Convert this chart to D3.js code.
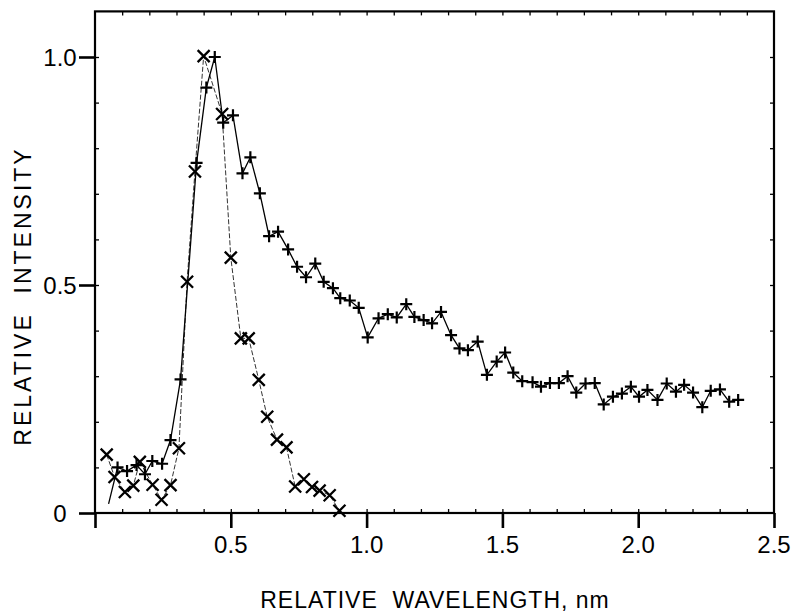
<!DOCTYPE html>
<html lang="en">
<head>
  <meta charset="UTF-8">
  <title>Relative intensity vs relative wavelength</title>
  <script src="https://d3js.org/d3.v7.min.js"></script>
  <style>
    body {
      margin: 0;
      background-color: #ffffff;
    }
    svg text {
      font-family: "Liberation Sans", Arial, sans-serif;
      fill: #000;
    }
  </style>
</head>
<body>

<div id="chart"></div>

<script>
  // data
  var plusX = [0.05, 0.083, 0.118, 0.153, 0.184, 0.211, 0.247, 0.278, 0.315, 0.374, 0.41, 0.441, 0.472, 0.508,
    0.543, 0.572, 0.607, 0.641, 0.674, 0.711, 0.744, 0.777, 0.811, 0.842, 0.876, 0.903, 0.938, 0.971, 1.004,
    1.044, 1.078, 1.111, 1.146, 1.176, 1.21, 1.241, 1.274, 1.311, 1.342, 1.373, 1.409, 1.443, 1.479, 1.51,
    1.54, 1.573, 1.611, 1.642, 1.675, 1.708, 1.74, 1.772, 1.806, 1.84, 1.873, 1.907, 1.94, 1.973, 2.003,
    2.034, 2.071, 2.105, 2.139, 2.169, 2.202, 2.236, 2.267, 2.301, 2.335, 2.368];
  var plusY = [0.02, 0.10, 0.092, 0.105, 0.085, 0.114, 0.108, 0.16, 0.293, 0.768, 0.933, 1.0, 0.856, 0.872,
    0.745, 0.780, 0.701, 0.607, 0.617, 0.578, 0.540, 0.517, 0.547, 0.507, 0.493, 0.471, 0.466, 0.450, 0.385,
    0.427, 0.436, 0.429, 0.458, 0.430, 0.423, 0.416, 0.441, 0.390, 0.361, 0.357, 0.376, 0.303, 0.332, 0.352,
    0.308, 0.289, 0.287, 0.277, 0.285, 0.285, 0.300, 0.264, 0.284, 0.285, 0.238, 0.255, 0.262, 0.277, 0.255,
    0.270, 0.248, 0.284, 0.266, 0.281, 0.264, 0.232, 0.268, 0.271, 0.244, 0.248];

  var crossX = [0.043, 0.072, 0.11, 0.141, 0.165, 0.212, 0.245, 0.278, 0.309, 0.339, 0.368, 0.400, 0.468,
    0.500, 0.537, 0.566, 0.603, 0.634, 0.670, 0.705, 0.737, 0.769, 0.799, 0.827, 0.864, 0.900];
  var crossY = [0.128, 0.079, 0.046, 0.060, 0.112, 0.062, 0.029, 0.061, 0.142, 0.507, 0.749, 1.002, 0.875,
    0.560, 0.383, 0.383, 0.292, 0.211, 0.161, 0.144, 0.058, 0.074, 0.057, 0.049, 0.039, 0.005];

  var xMajor = [0, 0.5, 1.0, 1.5, 2.0, 2.5];
  var xLabels = ["", "0.5", "1.0", "1.5", "2.0", "2.5"];
  var yMajor = [0, 0.5, 1.0];
  var yLabels = ["0", "0.5", "1.0"];

  var W = 793, H = 615;
  var plotL = 95, plotR = 774, plotT = 11.4, plotB = 513;

  var svg = d3.select("#chart")
    .append("svg")
    .attr("width", W)
    .attr("height", H);

  var x = d3.scaleLinear().domain([0, 2.5]).range([plotL, plotR]);
  var y = d3.scaleLinear().domain([0, 1.1]).range([plotB, plotT]);

  var minorX = d3.range(1, 25).map(function(i) { return i / 10; });
  var minorY = d3.range(1, 11).map(function(i) { return i / 10; });

  // minor ticks, all pointing inward
  svg.append("g").attr("transform", "translate(0," + plotB + ")")
    .call(d3.axisBottom(x).tickValues(minorX).tickSize(-4).tickFormat(""));
  svg.append("g").attr("transform", "translate(0," + plotT + ")")
    .call(d3.axisTop(x).tickValues(minorX).tickSize(-4).tickFormat(""));
  svg.append("g").attr("transform", "translate(" + plotL + ",0)")
    .call(d3.axisLeft(y).tickValues(minorY).tickSize(-4).tickFormat(""));
  svg.append("g").attr("transform", "translate(" + plotR + ",0)")
    .call(d3.axisRight(y).tickValues(minorY).tickSize(-4).tickFormat(""));

  // major ticks, outward on bottom and left
  svg.append("g").attr("class", "major").attr("transform", "translate(0," + plotB + ")")
    .call(d3.axisBottom(x).tickValues(xMajor).tickSize(15).tickFormat(""));
  svg.append("g").attr("class", "major").attr("transform", "translate(" + plotL + ",0)")
    .call(d3.axisLeft(y).tickValues(yMajor).tickSize(16).tickFormat(""));

  svg.selectAll(".domain").remove();
  svg.selectAll(".tick line").attr("stroke", "#000").attr("stroke-width", 1.3);
  svg.selectAll(".major .tick line").attr("stroke-width", 2.6);

  // frame
  svg.append("rect")
    .attr("x", plotL).attr("y", plotT)
    .attr("width", plotR - plotL).attr("height", plotB - plotT)
    .attr("fill", "none").attr("stroke", "#000").attr("stroke-width", 2.2);

  // tick labels
  svg.selectAll(".xlab").data(xMajor).enter().append("text")
    .attr("x", function(d) { return x(d); })
    .attr("y", 553)
    .attr("text-anchor", "middle")
    .style("font-size", "24px")
    .text(function(d, i) { return xLabels[i]; });

  svg.selectAll(".ylab").data(yMajor).enter().append("text")
    .attr("x", 60)
    .attr("y", function(d) { return y(d) + 8.5; })
    .attr("text-anchor", "middle")
    .style("font-size", "24px")
    .text(function(d, i) { return yLabels[i]; });

  // axis titles
  svg.append("text")
    .attr("x", 435).attr("y", 608)
    .attr("text-anchor", "middle")
    .style("font-size", "23px")
    .style("letter-spacing", "1px")
    .attr("xml:space", "preserve")
    .text("RELATIVE  WAVELENGTH, nm");

  svg.append("text")
    .attr("transform", "translate(31,296) rotate(-90)")
    .attr("text-anchor", "middle")
    .style("font-size", "23px")
    .style("letter-spacing", "3px")
    .attr("xml:space", "preserve")
    .text("RELATIVE  INTENSITY");

  // series
  var plusPts = plusX.map(function(d, i) { return [d, plusY[i]]; });
  var crossPts = crossX.map(function(d, i) { return [d, crossY[i]]; });

  var line = d3.line()
    .x(function(d) { return x(d[0]); })
    .y(function(d) { return y(d[1]); });

  svg.append("path")
    .datum(crossPts)
    .attr("d", line)
    .attr("fill", "none")
    .attr("stroke", "#333")
    .attr("stroke-width", 1)
    .attr("stroke-dasharray", "5,2");

  svg.append("path")
    .datum(plusPts)
    .attr("d", line)
    .attr("fill", "none")
    .attr("stroke", "#000")
    .attr("stroke-width", 1.3);

  // first plus point has no visible marker in the original
  svg.selectAll(".plus").data(plusPts.slice(1)).enter().append("path")
    .attr("transform", function(d) { return "translate(" + x(d[0]) + "," + y(d[1]) + ")"; })
    .attr("d", "M-6,0H6M0,-6V6")
    .attr("stroke", "#000")
    .attr("stroke-width", 2.2);

  svg.selectAll(".cross").data(crossPts).enter().append("path")
    .attr("transform", function(d) { return "translate(" + x(d[0]) + "," + y(d[1]) + ")"; })
    .attr("d", "M-6,-6L6,6M6,-6L-6,6")
    .attr("stroke", "#000")
    .attr("stroke-width", 2.3);
</script>

</body>
</html>
